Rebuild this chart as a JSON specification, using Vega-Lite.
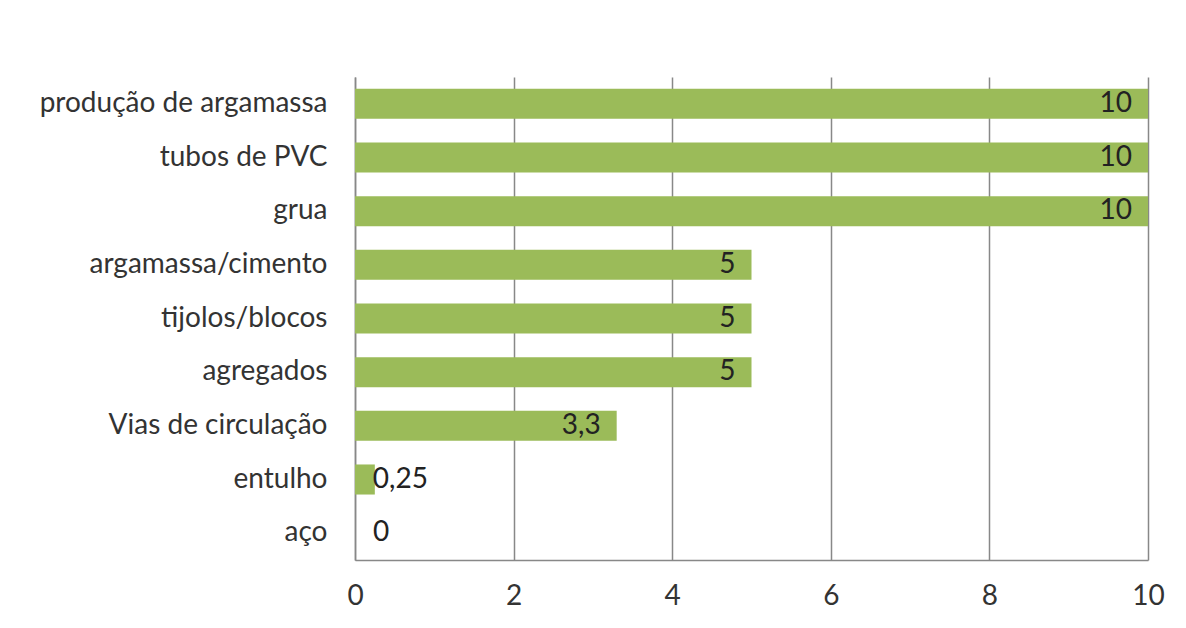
{
  "$schema": "https://vega.github.io/schema/vega-lite/v6.json",
  "width": 793,
  "height": 483,
  "autosize": {"type": "none"},
  "padding": {"left": 355, "top": 77, "right": 38, "bottom": 68},
  "background": "white",
  "data": {"values": [
    {"item": "produção de argamassa", "valor": 10, "rotulo": "10"},
    {"item": "tubos de PVC", "valor": 10, "rotulo": "10"},
    {"item": "grua", "valor": 10, "rotulo": "10"},
    {"item": "argamassa/cimento", "valor": 5, "rotulo": "5"},
    {"item": "tijolos/blocos", "valor": 5, "rotulo": "5"},
    {"item": "agregados", "valor": 5, "rotulo": "5"},
    {"item": "Vias de circulação", "valor": 3.3, "rotulo": "3,3"},
    {"item": "entulho", "valor": 0.25, "rotulo": "0,25"},
    {"item": "aço", "valor": 0, "rotulo": "0"}
  ]},
  "encoding": {
    "y": {"field": "item", "type": "nominal", "sort": null,
      "scale": {"paddingInner": 0.44, "paddingOuter": 0.22},
      "axis": {"title": null, "ticks": false, "labelFont": "Lato", "labelFontSize": 28, "labelLimit": 400, "labelColor": "#333333", "labelPadding": 28, "domainColor": "#888888", "domainWidth": 1.5, "grid": false}},
    "x": {"field": "valor", "type": "quantitative",
      "scale": {"domain": [0, 10], "nice": false},
      "axis": {"title": null, "values": [0, 2, 4, 6, 8, 10], "ticks": false, "labelFont": "Lato", "labelFontSize": 28, "labelColor": "#333333", "labelPadding": 22, "domainColor": "#888888", "domainWidth": 1.5, "grid": true, "gridColor": "#888888", "gridWidth": 1.5, "labelFlush": false}}
  },
  "layer": [
    {"mark": {"type": "bar", "color": "#9BBB59"}},
    {"transform": [{"filter": "datum.valor >= 1"}],
     "mark": {"type": "text", "align": "right", "baseline": "middle", "dx": -16, "font": "Lato", "fontSize": 28, "color": "#222222"},
     "encoding": {"text": {"field": "rotulo"}}},
    {"transform": [{"filter": "datum.valor > 0 && datum.valor < 1"}],
     "mark": {"type": "text", "align": "left", "baseline": "middle", "dx": -2, "font": "Lato", "fontSize": 28, "color": "#222222"},
     "encoding": {"text": {"field": "rotulo"}}},
    {"transform": [{"filter": "datum.valor == 0"}],
     "mark": {"type": "text", "align": "left", "baseline": "middle", "dx": 18, "font": "Lato", "fontSize": 28, "color": "#222222"},
     "encoding": {"text": {"field": "rotulo"}}}
  ],
  "config": {"view": {"stroke": null}}
}
